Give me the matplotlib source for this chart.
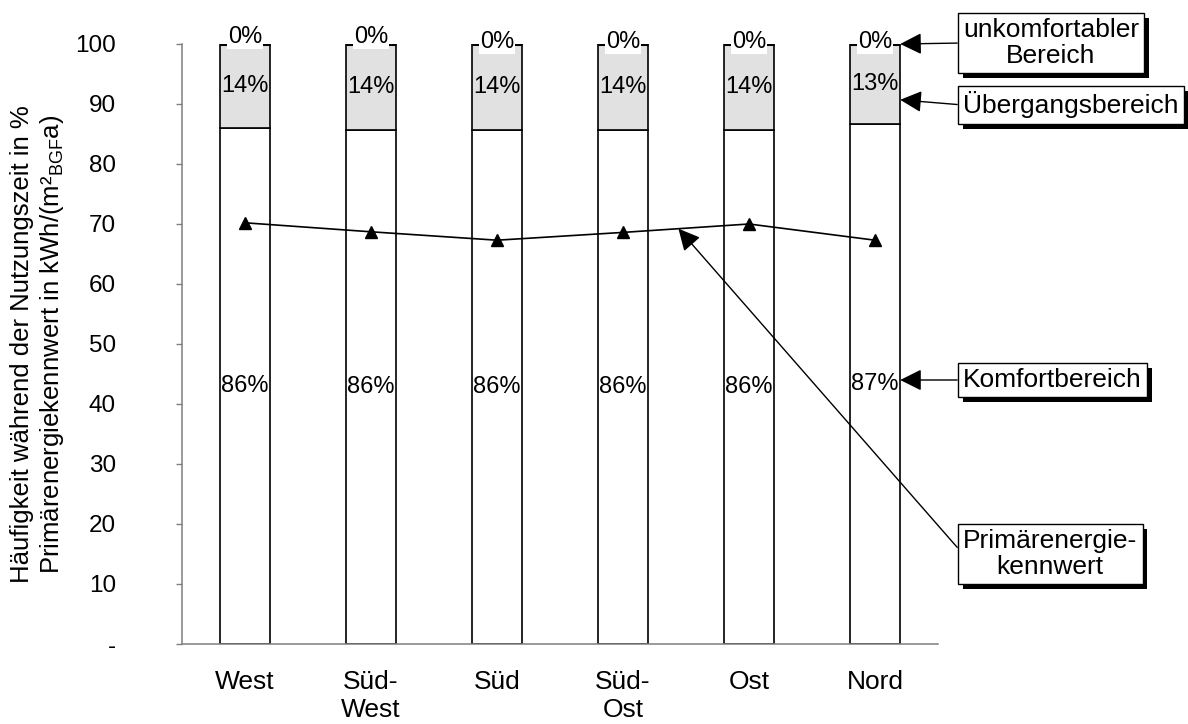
import numpy as np
import matplotlib
matplotlib.use("Agg")
import matplotlib.pyplot as plt
import matplotlib.patheffects as pe_fx

plt.rcParams['font.family'] = ['Liberation Sans', 'DejaVu Sans']
plt.rcParams['mathtext.fontset'] = 'custom'
plt.rcParams['mathtext.rm'] = 'Liberation Sans'
plt.rcParams['mathtext.it'] = 'Liberation Sans:italic'

# Orientierungen und Anteile der Komfortbereiche (in % der Nutzungszeit)
categories = ['West', 'Süd-\nWest', 'Süd', 'Süd-\nOst', 'Ost', 'Nord']
komfort = [86.0, 85.6, 85.6, 85.6, 85.6, 86.6]
uebergang = [14.0, 14.4, 14.4, 14.4, 14.4, 13.4]
unkomfortabel = [0.0, 0.0, 0.0, 0.0, 0.0, 0.0]
# Primärenergiekennwert in kWh/(m² BGF a)
primaerenergie = [70.2, 68.7, 67.3, 68.6, 70.0, 67.3]

y_ticks = [0, 10, 20, 30, 40, 50, 60, 70, 80, 90, 100]
y_ticklabels = ['-', '10', '20', '30', '40', '50', '60', '70', '80', '90', '100']

x = np.arange(len(categories))
komfort = np.array(komfort)
uebergang = np.array(uebergang)
unkomfortabel = np.array(unkomfortabel)
top = komfort + uebergang

fig = plt.figure(figsize=(11.88, 7.24), dpi=100)
ax = fig.add_axes([182 / 1188, 80 / 724, 756 / 1188, 600 / 724])

bw = 0.4
ax.bar(x, komfort, width=bw, color='white', edgecolor='black', linewidth=1.2, zorder=2)
ax.bar(x, uebergang, width=bw, bottom=komfort, color='#e1e1e1', edgecolor='black',
       linewidth=1.2, zorder=2)
ax.bar(x, unkomfortabel, width=bw, bottom=top, color='black', edgecolor='black',
       linewidth=2.2, zorder=2)

# Prozentbeschriftungen der Segmente
lift = [8, 8, 2, 2, 2, 2]
for i in range(len(x)):
    ax.text(x[i], komfort[i] / 2, f"{komfort[i]:.0f}%", ha='center', va='center',
            fontsize=17, zorder=4)
    ax.text(x[i], komfort[i] + uebergang[i] / 2, f"{uebergang[i]:.0f}%", ha='center',
            va='center', fontsize=17, zorder=4)
    ax.annotate(f"{unkomfortabel[i]:.0f}%", xy=(x[i], top[i] + unkomfortabel[i]),
                xytext=(0, lift[i] * 0.65), textcoords='offset points',
                ha='center', va='center', fontsize=17, zorder=5,
                bbox=dict(boxstyle='square,pad=0.05', fc='white', ec='none'))

# Primärenergiekennwert als Linie
ax.plot(x, primaerenergie, color='black', linewidth=1.2, marker='^', markersize=8.5,
        zorder=3)

ax.set_xlim(-0.5, len(x) - 0.5)
ax.set_ylim(0, 100)
ax.set_yticks(y_ticks)
ax.set_yticklabels(y_ticklabels, fontsize=17.5)
ax.set_xticks(x)
ax.set_xticklabels(categories, fontsize=19, linespacing=1.2)
ax.tick_params(axis='y', direction='out', length=4.5, width=1.0, color='#7f7f7f', pad=43)
ax.tick_params(axis='x', length=0, pad=19)
for side in ['top', 'right']:
    ax.spines[side].set_visible(False)
for side in ['left', 'bottom']:
    ax.spines[side].set_color('#7f7f7f')
    ax.spines[side].set_linewidth(1.1)

fig.text(38 / 1188, 1 - 344 / 724,
         'Häufigkeit während der Nutzungszeit in %\n'
         'Primärenergiekennwert in kWh/(m²$_{\\mathrm{BGF}}$a)',
         rotation=90, ha='center', va='center', multialignment='center',
         fontsize=18.5, linespacing=1.2)

# Beschriftungskästen mit Schatten und Pfeilen
arrow = dict(arrowstyle='-|>,head_length=0.6,head_width=0.3', color='black',
             lw=1.0, mutation_scale=22, shrinkA=0, shrinkB=0, relpos=(0, 0.5))
box = dict(boxstyle='square,pad=0.2', fc='white', ec='black', lw=1.0)

pe_tip = 3.44
notes = [
    ('unkomfortabler\nBereich', (len(x) - 1 + bw / 2, 100.0), 681),
    ('Übergangsbereich', (len(x) - 1 + bw / 2, 90.7), 619),
    ('Komfortbereich', (len(x) - 1 + bw / 2, 44.0), 344),
    ('Primärenergie-\nkennwert', (pe_tip, np.interp(pe_tip, x, primaerenergie)), 170),
]
for label, target, ypix in notes:
    t = ax.annotate(label, xy=target, xycoords='data', xytext=(963, ypix),
                    textcoords='figure pixels', ha='left', va='center',
                    multialignment='center', fontsize=19, linespacing=1.1,
                    bbox=box, arrowprops=arrow, zorder=6)
    t.get_bbox_patch().set_path_effects([
        pe_fx.SimplePatchShadow(offset=(3.5, -3.5), shadow_rgbFace='black', alpha=1.0),
        pe_fx.Normal()])

fig.savefig('out.png', dpi=100)
